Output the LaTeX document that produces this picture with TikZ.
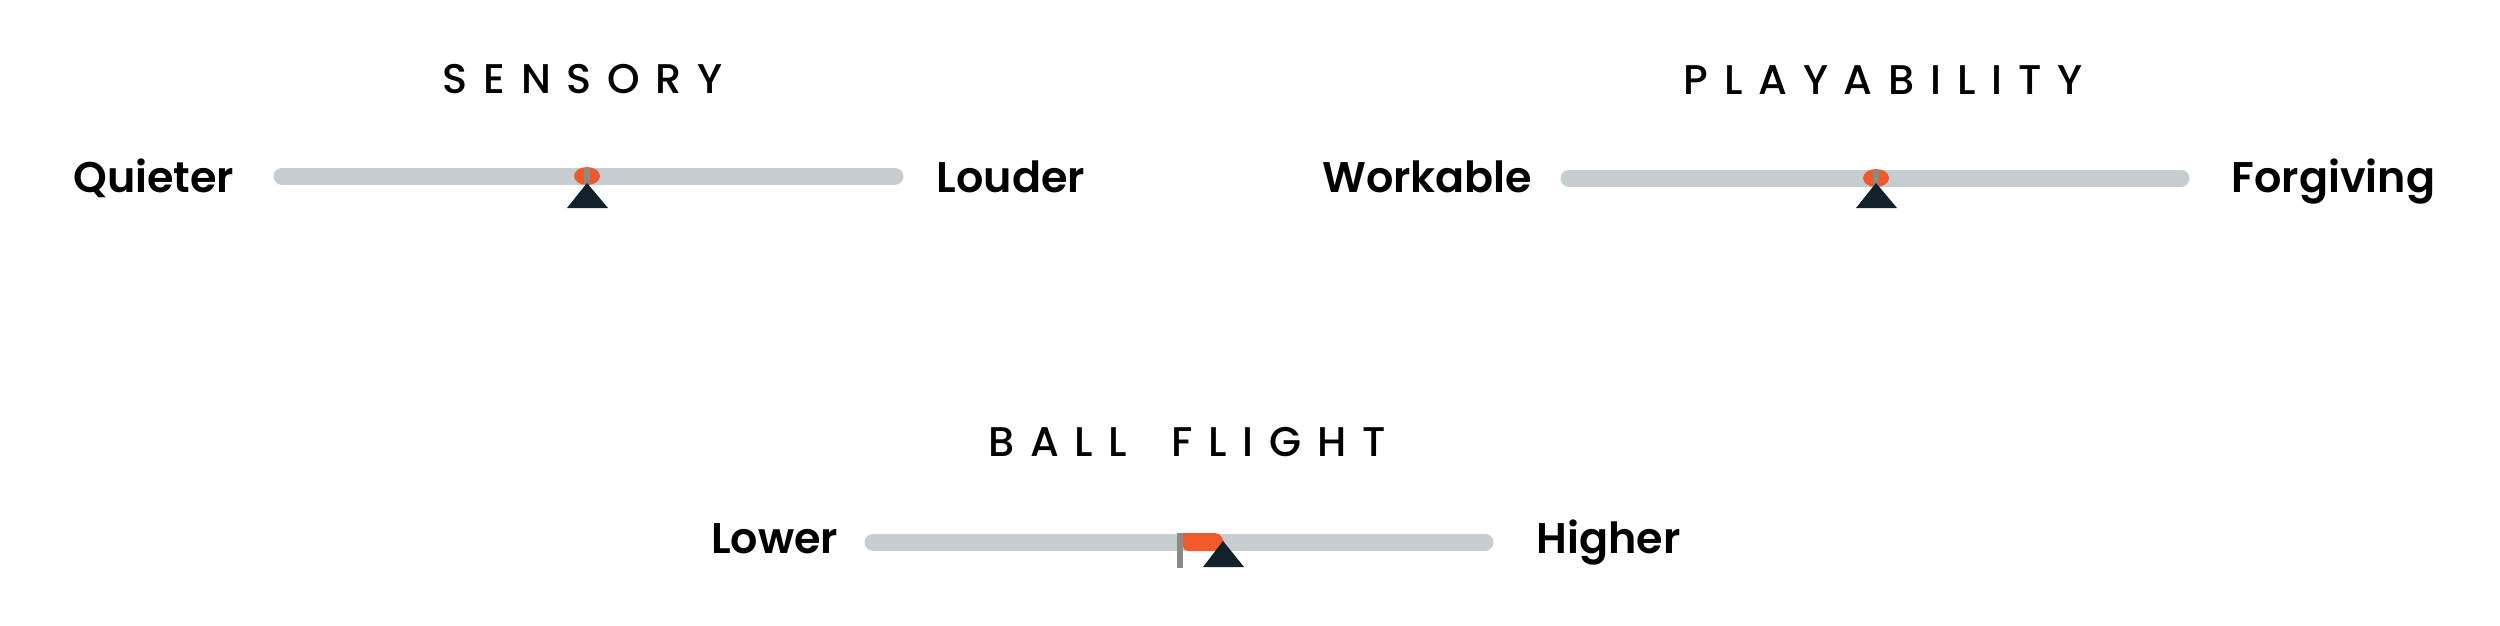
\documentclass[tikz,border=0pt]{standalone}
\usepackage{fontspec}
\setmainfont{Poppins SemiBold}
\newfontfamily\headfont{Poppins Medium}[LetterSpace=38]
\usepackage{tikz}

\definecolor{bargray}{RGB}{197,205,209}
\definecolor{knoborange}{RGB}{240,89,42}
\definecolor{pointernavy}{RGB}{19,34,42}
\definecolor{polegray}{RGB}{140,138,130}

\tikzset{
  bar/.style={line width=1.7mm, line cap=round, color=bargray},
  lbl/.style={inner sep=0pt, font=\fontsize{12.2}{14}\selectfont},
  heading/.style={inner sep=0pt, anchor=base, font=\fontsize{11.8}{14}\headfont},
  knob/.style={fill=knoborange},
  pole/.style={line width=0.6mm, color=polegray},
  pointer/.style={fill=pointernavy},
  flagcloth/.style={fill=knoborange}
}

\begin{document}
\begin{tikzpicture}[x=0.1mm, y=-0.1mm]
        \useasboundingbox (0,0) rectangle (2500,625);
        % sensory
        \node[heading] (sensory) at (583,93) {SENSORY};
        \coordinate (sens-l) at (282,176);
        \coordinate (sens-r) at (895,176);
        \coordinate (sens-m) at (587,176);
        \draw[bar] (sens-l) -- (sens-r);
        \node[lbl, anchor=base east] (quieter) at (235,192) {Quieter};
        \node[lbl, anchor=base west] (louder) at (936,192) {Louder};
        \fill[knob] (sens-m) ellipse [x radius=1.3mm, y radius=0.9mm];
        \draw[pole] (sens-m) ++(0,-8) -- ++(0,16);
        \fill[pointer] (sens-m) ++(0,7) -- ++(-20,25) -- ++(41,0) -- cycle;
        % playability
        \node[heading] (playability) at (1883,94) {PLAYABILITY};
        \coordinate (play-l) at (1569,178);
        \coordinate (play-r) at (2181,178);
        \coordinate (play-m) at (1876,178);
        \draw[bar] (play-l) -- (play-r);
        \node[lbl, anchor=base east] (workable) at (1533,192) {Workable};
        \node[lbl, anchor=base west] (forgiving) at (2231,192) {Forgiving};
        \fill[knob] (play-m) ellipse [x radius=1.3mm, y radius=0.9mm];
        \draw[pole] (play-m) ++(0,-8) -- ++(0,16);
        \fill[pointer] (play-m) ++(0,5) -- ++(-20,25) -- ++(41,0) -- cycle;
        % ball flight
        \node[heading] (ballflight) at (1187,456) {BALL\hspace{1.07em}FLIGHT};
        \coordinate (ball-l) at (873,542);
        \coordinate (ball-r) at (1485,542);
        \coordinate (ball-m) at (1180,542);
        \draw[bar] (ball-l) -- (ball-r);
        \node[lbl, anchor=base east] (lower) at (839,553) {Lower};
        \node[lbl, anchor=base west] (higher) at (1536,553) {Higher};
        \fill[flagcloth] (1183,551) -- (1183,533) [rounded corners=0.5mm] -- (1220,533) -- (1228,551) -- cycle;
        \draw[pole] (ball-m) ++(0,-9) -- ++(0,35);
        \fill[pointer] (1223,541) -- (1203,567) -- (1244,567) -- cycle;
      \end{tikzpicture}
\end{document}
